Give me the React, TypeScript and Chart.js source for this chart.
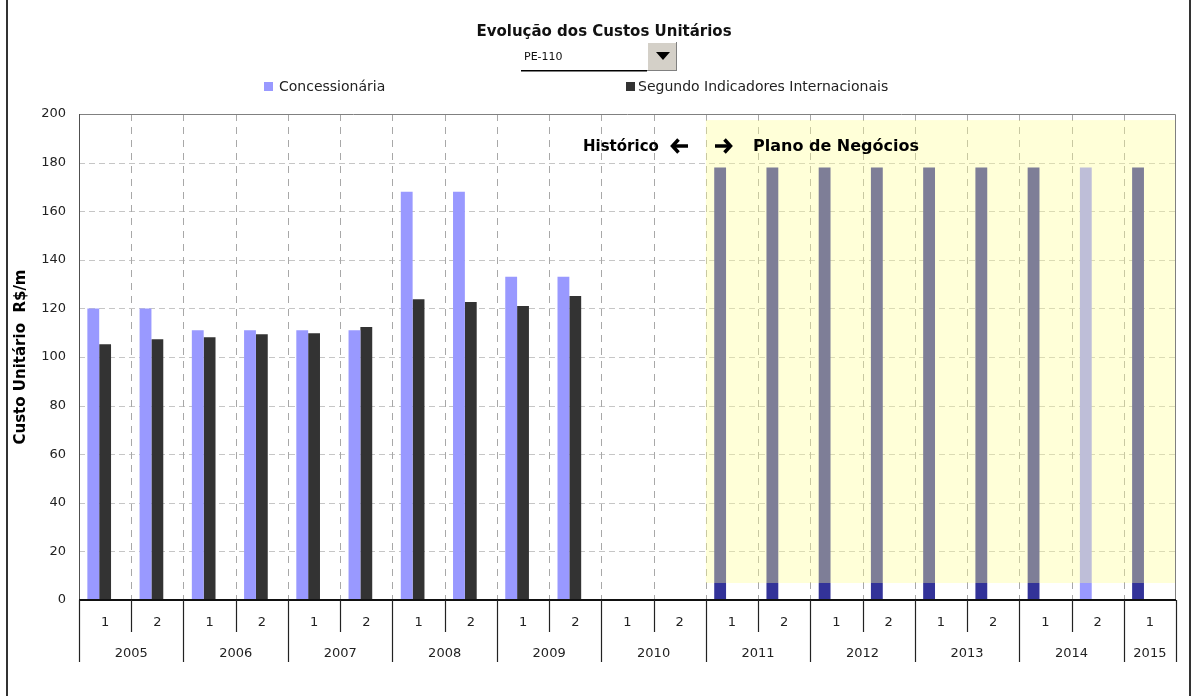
import React, { useEffect, useRef } from "react";
import { Chart, registerables } from "chart.js";

Chart.register(...registerables);

// ---------- data ----------
const years = ["2005", "2006", "2007", "2008", "2009", "2010", "2011", "2012", "2013", "2014", "2015"];
const halvesPerYear = [2, 2, 2, 2, 2, 2, 2, 2, 2, 2, 1];
const halfLabels = ["1", "2", "1", "2", "1", "2", "1", "2", "1", "2", "1", "2", "1", "2", "1", "2", "1", "2", "1", "2", "1"];
const concessionaria = [120, 120, 111, 111, 111, 111, 168, 168, 133, 133, null, null, 178, 178, 178, 178, 178, 178, 178, 178, 178];
const segundo = [105.2, 107.3, 108.1, 109.4, 109.8, 112.3, 123.8, 122.6, 121, 125.1, null, null, null, null, null, null, null, null, null, null, null];
const spacerSeries = [null, null, null, null, null, null, null, null, null, null, null, null, null, null, null, null, null, null, null, null, null];
const yTickValues = [0, 20, 40, 60, 80, 100, 120, 140, 160, 180, 200];
const planStartIndex = 12;
const lightPlanIndex = 19;
const planBandRange = [7, 197.5];

const TITLE = "Evolução dos Custos Unitários";
const DROPDOWN_VALUE = "PE-110";
const LEGEND_1 = "Concessionária";
const LEGEND_2 = "Segundo Indicadores Internacionais";
const Y_TITLE = "Custo Unitário  R$/m";
const HIST_TEXT = "Histórico";
const PLAN_TEXT = "Plano de Negócios";

// ---------- styles ----------
const FONT = '"DejaVu Sans", Verdana, sans-serif';
const LIGHT = "#9999FF";
const DARK = "#333333";
const PLAN = "#333399";

const yearOfCategory: string[] = [];
const yearStartIdx: number[] = [];
years.forEach((y, k) => {
  yearStartIdx.push(yearOfCategory.length);
  for (let j = 0; j < halvesPerYear[k]; j++) yearOfCategory.push(y);
});
const categories = halfLabels.map((h, i) => `${yearOfCategory[i]}-${h}`);
const concColors = concessionaria.map((_, i) =>
  i < planStartIndex || i === lightPlanIndex ? LIGHT : PLAN
);

const customPlugin = {
  id: "customDecor",
  beforeDatasetsDraw(chart: any) {
    const { ctx, chartArea: a, scales } = chart;
    const x = scales.x;
    const y = scales.y;
    const step = x.getPixelForValue(1) - x.getPixelForValue(0);
    ctx.save();
    ctx.lineWidth = 1;
    ctx.strokeStyle = "#c6c6c6";
    ctx.setLineDash([6, 4]);
    yTickValues.forEach((v) => {
      if (v <= 0 || v >= 200) return;
      const py = Math.round(y.getPixelForValue(v)) + 0.5;
      ctx.beginPath();
      ctx.moveTo(a.left, py);
      ctx.lineTo(a.right, py);
      ctx.stroke();
    });
    ctx.strokeStyle = "#a8a8a8";
    ctx.setLineDash([7, 6]);
    for (let k = 1; k < categories.length; k++) {
      const px = Math.round(x.getPixelForValue(k) - step / 2) + 0.5;
      ctx.beginPath();
      ctx.moveTo(px, a.top);
      ctx.lineTo(px, a.bottom);
      ctx.stroke();
    }
    ctx.restore();
  },
  afterDatasetsDraw(chart: any) {
    const { ctx, chartArea: a, scales } = chart;
    const x = scales.x;
    const y = scales.y;
    const step = x.getPixelForValue(1) - x.getPixelForValue(0);
    const x0 = x.getPixelForValue(planStartIndex) - step / 2;
    const yTop = y.getPixelForValue(planBandRange[1]);
    const yBot = y.getPixelForValue(planBandRange[0]);
    ctx.save();
    ctx.fillStyle = "rgba(255,255,150,0.37)";
    ctx.fillRect(x0, yTop, a.right - x0, yBot - yTop);
    ctx.restore();
  },
  afterDraw(chart: any) {
    const { ctx, chartArea: a, scales } = chart;
    const x = scales.x;
    const step = x.getPixelForValue(1) - x.getPixelForValue(0);
    const n = categories.length;
    ctx.save();

    ctx.setLineDash([]);
    ctx.lineWidth = 1;
    ctx.strokeStyle = "#808080";
    ctx.beginPath();
    ctx.moveTo(a.left + 0.5, a.bottom);
    ctx.lineTo(a.left + 0.5, a.top + 0.5);
    ctx.lineTo(a.right - 0.5, a.top + 0.5);
    ctx.lineTo(a.right - 0.5, a.bottom);
    ctx.stroke();
    ctx.strokeStyle = "#505050";
    ctx.beginPath();
    ctx.moveTo(a.left + 0.5, a.bottom);
    ctx.lineTo(a.left + 0.5, a.top);
    ctx.stroke();

    ctx.fillStyle = "#111";
    ctx.fillRect(a.left, a.bottom - 1, a.right - a.left, 2);

    ctx.strokeStyle = "#222";
    ctx.lineWidth = 1.2;
    for (let k = 0; k <= n; k++) {
      const px = k < n ? x.getPixelForValue(k) - step / 2 : x.getPixelForValue(n - 1) + step / 2;
      const isYear = k === n || yearStartIdx.includes(k);
      const pxr = Math.round(px) + 0.5;
      ctx.beginPath();
      ctx.moveTo(pxr, a.bottom);
      ctx.lineTo(pxr, isYear ? a.bottom + 62 : a.bottom + 32);
      ctx.stroke();
    }
    ctx.fillStyle = "#222";
    ctx.font = `13px ${FONT}`;
    ctx.textAlign = "center";
    ctx.textBaseline = "middle";
    halfLabels.forEach((h, i) => {
      ctx.fillText(h, x.getPixelForValue(i), a.bottom + 23);
    });
    years.forEach((yr, k) => {
      const s = yearStartIdx[k];
      const e = s + halvesPerYear[k] - 1;
      const cx = (x.getPixelForValue(s) + x.getPixelForValue(e)) / 2;
      ctx.fillText(yr, cx, a.bottom + 54);
    });

    ctx.fillStyle = "#111";
    ctx.font = `bold 15px ${FONT}`;
    ctx.fillText(TITLE, 604, 32);

    ctx.textAlign = "left";
    ctx.font = `11px ${FONT}`;
    ctx.fillStyle = "#111";
    ctx.fillText(DROPDOWN_VALUE, 524, 57);
    ctx.fillStyle = "#000";
    ctx.fillRect(521, 70, 126, 1.5);
    ctx.fillStyle = "#D4D0C8";
    ctx.fillRect(647, 42, 30, 29);
    ctx.fillStyle = "#ffffff";
    ctx.fillRect(647, 42, 30, 1);
    ctx.fillRect(647, 42, 1, 29);
    ctx.fillStyle = "#808080";
    ctx.fillRect(647, 70, 30, 1);
    ctx.fillRect(676, 42, 1, 29);
    ctx.fillStyle = "#000";
    ctx.beginPath();
    ctx.moveTo(656, 52);
    ctx.lineTo(670, 52);
    ctx.lineTo(663, 60);
    ctx.closePath();
    ctx.fill();

    ctx.font = `14px ${FONT}`;
    ctx.fillStyle = LIGHT;
    ctx.fillRect(264, 82, 9, 9);
    ctx.fillStyle = "#222";
    ctx.fillText(LEGEND_1, 279, 87.5);
    ctx.fillStyle = DARK;
    ctx.fillRect(626, 82, 9, 9);
    ctx.fillStyle = "#222";
    ctx.fillText(LEGEND_2, 638, 87.5);

    ctx.fillStyle = "#000";
    ctx.font = `bold 15px ${FONT}`;
    ctx.fillText(HIST_TEXT, 583, 147);
    ctx.font = `bold 16px ${FONT}`;
    ctx.fillText(PLAN_TEXT, 753, 147);

    ctx.strokeStyle = "#000";
    ctx.lineWidth = 3.5;
    ctx.lineJoin = "miter";
    ctx.lineCap = "butt";
    ctx.beginPath();
    ctx.moveTo(688, 146);
    ctx.lineTo(673, 146);
    ctx.stroke();
    ctx.beginPath();
    ctx.moveTo(678.5, 139.5);
    ctx.lineTo(672.5, 146);
    ctx.lineTo(678.5, 152.5);
    ctx.stroke();
    ctx.beginPath();
    ctx.moveTo(715, 146);
    ctx.lineTo(730, 146);
    ctx.stroke();
    ctx.beginPath();
    ctx.moveTo(724.5, 139.5);
    ctx.lineTo(730.5, 146);
    ctx.lineTo(724.5, 152.5);
    ctx.stroke();

    ctx.fillStyle = "#333";
    ctx.fillRect(6, 0, 2, chart.height);
    ctx.fillRect(1189, 0, 2, chart.height);

    ctx.restore();
  },
};

export default function App() {
  const canvasRef = useRef<HTMLCanvasElement | null>(null);

  useEffect(() => {
    const canvas = canvasRef.current;
    if (!canvas) return;
    const chart = new Chart(canvas, {
      type: "bar",
      data: {
        labels: categories,
        datasets: [
          { label: LEGEND_1, data: concessionaria as any, backgroundColor: concColors, borderWidth: 0 },
          { label: LEGEND_2, data: segundo as any, backgroundColor: DARK, borderWidth: 0 },
          { label: "", data: spacerSeries as any, backgroundColor: "rgba(0,0,0,0)", borderWidth: 0 },
        ],
      },
      options: {
        responsive: false,
        animation: false,
        devicePixelRatio: 1,
        layout: { padding: { left: 0, top: 114, right: 18, bottom: 96 } },
        datasets: { bar: { categoryPercentage: 0.68, barPercentage: 1 } },
        plugins: {
          legend: { display: false },
          title: { display: false },
          tooltip: { enabled: false },
        },
        scales: {
          x: {
            type: "category",
            offset: true,
            grid: { display: false, drawTicks: false },
            border: { display: false },
            ticks: { display: false },
            afterFit: (s: any) => {
              s.height = 0;
            },
          },
          y: {
            min: 0,
            max: 200,
            afterBuildTicks: (s: any) => {
              s.ticks = yTickValues.map((v) => ({ value: v }));
            },
            ticks: {
              padding: 13,
              color: "#222",
              font: { family: FONT, size: 13 },
            },
            grid: { display: false, drawTicks: false },
            border: { display: false },
            title: {
              display: true,
              text: Y_TITLE,
              color: "#000",
              font: { family: FONT, size: 15, weight: "bold" },
              padding: { top: 12, bottom: 0 },
            },
            afterFit: (s: any) => {
              s.width = 79;
            },
          },
        },
      } as any,
      plugins: [customPlugin],
    });
    return () => chart.destroy();
  }, []);

  return (
    <canvas
      ref={canvasRef}
      width={1194}
      height={696}
      style={{ position: "fixed", left: 0, top: 0, width: 1194, height: 696, display: "block", background: "#fff" }}
    />
  );
}
